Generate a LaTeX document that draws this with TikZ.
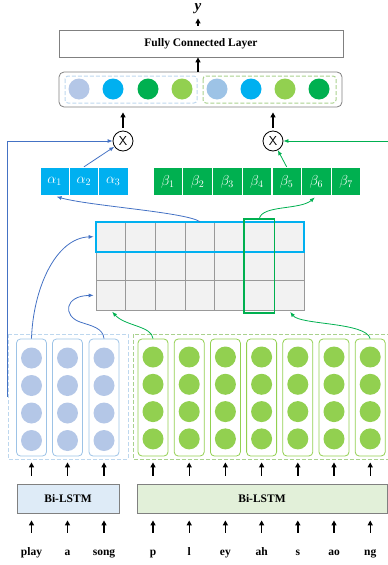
\documentclass[tikz,border=0pt]{standalone}
\usepackage{fontspec}
\setmainfont{Liberation Serif}
\usetikzlibrary{arrows.meta,calc}

\definecolor{lineblue}{HTML}{4472C4}
\definecolor{cyanbox}{HTML}{00B0F0}
\definecolor{darkgreen}{HTML}{00B050}
\definecolor{lightgreen}{HTML}{92D050}
\definecolor{paleblue}{HTML}{B4C7E7}
\definecolor{skyblue}{HTML}{9DC3E6}
\definecolor{dashblue}{HTML}{BDD7EE}
\definecolor{dashgreen}{HTML}{A9D18E}
\definecolor{cellgray}{HTML}{F2F2F2}
\definecolor{lstmblue}{HTML}{DEEBF7}
\definecolor{lstmgreen}{HTML}{E2F0D9}

\tikzset{
	up/.style={-{Triangle[length=5pt,width=5pt]}, line width=1.4pt},
	blueline/.style={draw=lineblue, line width=0.8pt, -{Latex[length=5pt,width=4pt]}},
	greenline/.style={draw=darkgreen, line width=0.8pt, -{Latex[length=5pt,width=4pt]}},
	unit/.style={circle, inner sep=0pt, minimum size=21pt},
	wordcol/.style={draw, rounded corners=4pt, line width=0.8pt, minimum width=30pt, minimum height=117pt},
	weight/.style={draw=white, line width=0.8pt, minimum width=29.5pt, minimum height=28.5pt, text=white, font=\fontsize{14}{14}\selectfont},
	gcell/.style={draw=gray!80, fill=cellgray, line width=0.7pt, minimum width=29.7pt, minimum height=29.3pt},
	mul/.style={draw, circle, line width=0.8pt, minimum size=20pt, inner sep=0pt, font=\sffamily\fontsize{13}{13}\selectfont},
	bold/.style={font=\bfseries\fontsize{11.5}{13}\selectfont},
	lstm/.style={bold, draw=gray, line width=0.8pt, minimum height=29pt},
	token/.style={bold, inner sep=0pt, anchor=base, text height=8pt, text depth=2pt},
	dashbox/.style={dashed, dash pattern=on 4pt off 2pt, line width=1pt}
}

\begin{document}
\begin{tikzpicture}[x=1pt,y=-1pt]
\useasboundingbox (0,0) rectangle (388,565);

%% Bi-LSTM %%
\node[lstm, fill=lstmblue, minimum width=102pt] (lstmL) at (68,498.5) {Bi-LSTM};
\node[lstm, fill=lstmgreen, minimum width=250pt] (lstmR) at (262,498.5) {Bi-LSTM};
\foreach \x/\w [count=\i] in {31.5/play,67.5/a,104/song,153/p,189.2/l,225.4/ey,261.6/ah,297.8/s,334/ao,370.2/ng}
{
	\node[token] (t\i) at (\x,555) {\w};
	\draw[up, shorten <=14pt, shorten >=7pt] (t\i.north) -- (t\i.north |- lstmL.south);
}

%% hidden states %%
\foreach \x [count=\i] in {31.5,67.5,104}
{
	\node[wordcol, draw=skyblue] (w\i) at (\x,397.5) {};
	\foreach \y in {358,385.5,413,440.5}
		\fill[paleblue] (\x,\y) circle[radius=10.5];
	\draw[up, shorten <=8pt, shorten >=6pt] (w\i.south |- lstmL.north) -- (w\i.south);
}
\foreach \x [count=\i from 4] in {153,189.2,225.4,261.6,297.8,334,370.2}
{
	\node[wordcol, draw=lightgreen] (w\i) at (\x,397.5) {};
	\foreach \y in {357,384.3,411.6,438.9}
		\fill[lightgreen] (\x,\y) circle[radius=10.5];
	\draw[up, shorten <=8pt, shorten >=6pt] (w\i.south |- lstmR.north) -- (w\i.south);
}
\draw[dashbox, draw=dashblue] (8,334) rectangle (128,459);
\draw[dashbox, draw=dashgreen] (133,334) rectangle (392,459);

%% matrix %%
\foreach \r in {1,2,3}
	\foreach \c in {1,...,7}
		\node[gcell] (g\r\c) at ({96+29.7*(\c-0.5)},{222+29.3*(\r-0.5)}) {};
\draw[cyanbox, line width=2pt] (g11.north west) rectangle (g17.south east);
\draw[darkgreen, line width=1.8pt] ($(g16.north west)+(0,-3)$) rectangle ($(g36.south east)+(0,3)$);

\draw[blueline, shorten >=2pt] (w1.north) .. controls (33,290) and (55,238) .. (g11.west);
\draw[blueline, shorten >=2pt] (w3.north) .. controls (103,328) and (92,326) .. (80,322) .. controls (63,316) and (64,296) .. (g31.west);
\draw[greenline, shorten >=2pt] (w4.north) .. controls (152,326) and (125,326) .. (g31.south);
\draw[greenline, shorten >=2pt] (w10.north) .. controls (366,322) and (300,325) .. (g37.south);

%% weights %%
\foreach \i in {1,2,3}
	\node[weight, fill=cyanbox] (a\i) at ({40+29.3*(\i-0.5)},181.5) {$\alpha_{\i}$};
\foreach \i in {1,...,7}
	\node[weight, fill=darkgreen] (b\i) at ({153+29.7*(\i-0.5)},181.5) {$\beta_{\i}$};

\draw[blueline, shorten >=2pt] (g14.north) .. controls (185,212) and (90,206) .. (a1.south);
\draw[greenline, shorten >=2pt] ($(g16.north)+(0,-3)$) .. controls (262,205) and (300,210) .. (b6.south);

%% products %%
\node[mul] (mulA) at (123,141) {X};
\node[mul] (mulB) at (273,141) {X};
\draw[blueline] (a2.north) -- (mulA);
\draw[greenline] (b5.north) -- (mulB);
\coordinate (inL) at (7,397);
\coordinate (inR) at (390,141);
\draw[blueline] (inL) |- (mulA.west);
\draw[greenline] (inR) -- (mulB.east);

%% output %%
\node[draw=gray, line width=0.8pt, rounded corners=5pt, minimum width=283pt, minimum height=35pt] (concat) at (200.5,89.5) {};
\draw[dashbox, draw=dashblue, rounded corners=3pt] (65,76) rectangle (197,103);
\draw[dashbox, draw=dashgreen, rounded corners=3pt] (203,76) rectangle (336,103);
\foreach \x/\c [count=\i] in {79/paleblue,113/cyanbox,148/darkgreen,182/lightgreen,217/skyblue,251/cyanbox,285/lightgreen,319/darkgreen}
	\node[unit, fill=\c] (h\i) at (\x,89) {};
\draw[up, shorten <=3pt, shorten >=5pt] (mulA.north) -- (mulA |- concat.south);
\draw[up, shorten <=3pt, shorten >=5pt] (mulB.north) -- (mulB |- concat.south);

\node[bold, draw=gray, line width=0.8pt, minimum width=284pt, minimum height=27pt] (fc) at (201,43.5) {Fully Connected Layer};
\node[font=\bfseries\itshape\fontsize{15}{15}\selectfont, inner sep=0pt, anchor=base] (y) at (198,10) {y};
\draw[up] (y |- concat.north) -- (y |- fc.south);
\draw[up, shorten <=4pt, shorten >=5pt] (y |- fc.north) -- (y.south);
\end{tikzpicture}
\end{document}
